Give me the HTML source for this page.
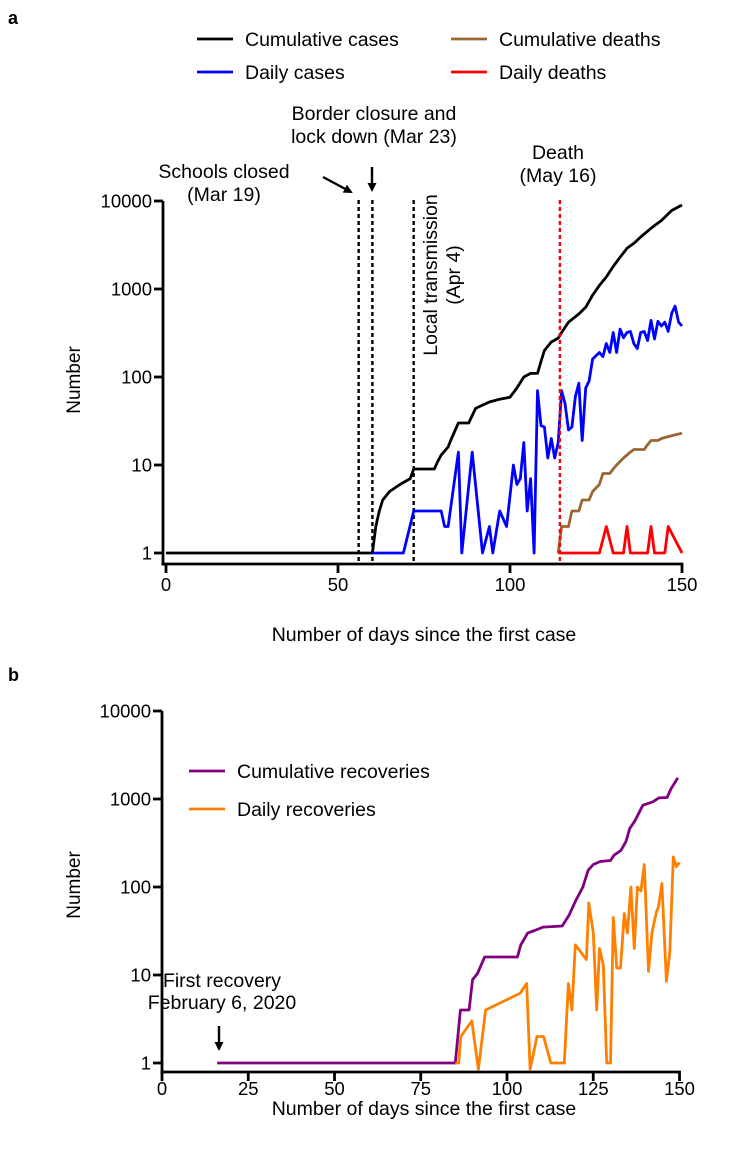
<!DOCTYPE html>
<html><head><meta charset="utf-8"><style>
body{margin:0;background:#fff;}
svg{display:block;font-family:"Liberation Sans",Arial,sans-serif;}
</style></head><body>
<svg id="chart" width="747" height="1166" viewBox="0 0 747 1166">
<defs><marker id="ah" markerWidth="9" markerHeight="9" refX="7" refY="4.5" orient="auto" markerUnits="userSpaceOnUse"><path d="M0,0 L9,4.5 L0,9 z" fill="#000"/></marker></defs>
<text x="8" y="24" font-size="18" font-weight="bold">a</text>
<text x="8" y="681" font-size="18" font-weight="bold">b</text>
<g id="a"></g><g id="b"></g>
</svg>
<script>
const NS='http://www.w3.org/2000/svg';
// Panel a data
const cumCasesDays=[0,60,61,62,63,65,68,71,72,78,79,80,82,83,85,88,90,92,94,97,100,102,104,106,108,109,110,112,114,115,117,120,122,124,126,128,130,132,134,136,138,141,144,147,150];
const cumCasesVals=[1,1,2,3,4,5,6,7,9,9,11,13,16,20,30,30,44,48,52,56,59,75,100,110,110,150,200,250,277,320,420,520,620,850,1100,1370,1800,2300,2900,3300,3900,4900,6000,7800,9000];
const dailyCasesDays=[60,69,72,80,81,82,85,86,89,92,94,95,97,99,101,102,103,104,105,106,107,108,109,110,111,112,113,114,115,116,117,118,119,120,121,122,123,124,126,127,128,129,130,131,132,133,134,135,136,137,138,139,140,141,142,143,144,145,146,147,148,149,150];
const dailyCasesVals=[1,1,3,3,2,2,14,1,14,1,2,1,3,2,10,6,7,18,3,7,1,70,28,27,12,20,12,18,70,50,25,27,60,85,19,75,90,160,190,170,240,190,320,190,350,280,320,330,240,210,320,330,260,440,270,430,380,420,330,530,640,420,380];
const cumDeathsDays=[114,115,117,118,120,121,123,124,126,127,129,130,131,133,134,135,136,139,140,141,143,144,146,148,150];
const cumDeathsVals=[1,2,2,3,3,4,4,5,6,8,8,9,10,12,13,14,15,15,17,19,19,20,21,22,23];
const dailyDeathsDays=[114,126,128,130,133,134,135,140,141,142,145,146,150];
const dailyDeathsVals=[1,1,2,1,1,2,1,1,2,1,1,2,1];
const eventDays=[56,60,72];
const deathEventDay=114.5;
// Panel b data
const cumRecDays=[16,85,86.5,89,90,91.5,93.5,103,104,106,108,110.5,116,118,120,122,123.5,125,127,130,131,133,134.5,135.6,137,139.4,142.3,144,146.4,147.5,149.5];
const cumRecVals=[1,1,4,4,8.8,10.5,16,16,22,30,32,35,36,48,71,100,155,180,195,200,230,260,330,465,560,850,930,1030,1040,1300,1740];
const dailyRecDays=[85,86,86.6,89.8,91.7,93.8,103.8,105.7,106.7,108.7,110.6,112.7,116.6,117.8,118.8,119.8,123,123.7,125,126,126.8,127.9,128.9,130,130.8,131.8,132.9,134,134.9,135.9,136.9,137.8,138.8,139.8,141,142,143.3,143.9,144.9,146.2,147.2,148.2,149.1,150];
const dailyRecVals=[1,1,2,3,0.85,4,6.2,8,0.85,2,2,1,1,8,4,22,15,66,30,4,20,13,1,1,45,12,12,50,30,100,20,100,90,180,11,30,52,60,110,8.5,18,220,170,190];
const yTicks=[1,10,100,1000,10000];
const xTicksA=[0,50,100,150];
const xTicksB=[0,25,50,75,100,125,150];

function el(tag,attrs,parent,txt){const e=document.createElementNS(NS,tag);for(const k in attrs)e.setAttribute(k,attrs[k]);if(txt!==undefined)e.textContent=txt;parent.appendChild(e);return e;}

function panel(g,cfg){
  const xs=d=>cfg.x0+d*cfg.kx, ys=v=>cfg.y1-cfg.ky*Math.log10(v);
  const ax=el('line',{x1:cfg.ax,y1:ys(10000),x2:cfg.ax,y2:cfg.axisY+1.5,stroke:'#000','stroke-width':2.8},g);
  
  
  const bx=el('line',{x1:cfg.ax-1.4,y1:cfg.axisY,x2:xs(150)+1.4,y2:cfg.axisY,stroke:'#000','stroke-width':2.8},g);
  
  
  yTicks.forEach(v=>{
    el('line',{x1:cfg.ax-9,y1:ys(v),x2:cfg.ax,y2:ys(v),stroke:'#000','stroke-width':2.8},g);
    const t=el('text',{x:cfg.ax-11,y:ys(v)+6.5,'text-anchor':'end','font-size':18.5},g,String(v));
    
    
  });
  cfg.xt.forEach(d=>{
    el('line',{x1:xs(d),y1:cfg.axisY,x2:xs(d),y2:cfg.axisY+9,stroke:'#000','stroke-width':2.8},g);
    const t=el('text',{x:xs(d),y:cfg.axisY+cfg.tkOff,'text-anchor':'middle','font-size':18.5},g,String(d));
    
    
  });
  const yt=el('text',{x:0,y:0,'text-anchor':'middle','font-size':19,transform:`translate(${cfg.ytx},${cfg.yty}) rotate(-90)`},g,'Number');
  
  
  const xt=el('text',{x:424,y:cfg.xtY,'text-anchor':'middle','font-size':19.5},g,'Number of days since the first case');
  
  
  return {xs,ys};
}
function series(g,s,days,vals,color,name){
  const p=el('polyline',{points:days.map((d,i)=>s.xs(d).toFixed(1)+','+s.ys(vals[i]).toFixed(1)).join(' '),fill:'none',stroke:color,'stroke-width':2.8,'stroke-linejoin':'round'},g);
  
  
}
function legend(g,x,y,color,label,name){
  el('line',{x1:x,y1:y,x2:x+36,y2:y,stroke:color,'stroke-width':2.8},g);
  const t=el('text',{x:x+48,y:y+7,'font-size':19.5},g,label);
  
  
}
function txt(g,x,y,s,name,anchor){const t=el('text',{x,y,'text-anchor':anchor||'middle','font-size':19.5},g,s);}

const ga=document.getElementById('a');
const sa=panel(ga,{x0:166,kx:3.44,y1:553,ky:88,ax:163,axisY:564,xt:xTicksA,ytx:80,yty:380,xtY:641,tkOff:27});
eventDays.forEach(d=>{const l=el('line',{x1:sa.xs(d),y1:200,x2:sa.xs(d),y2:563,stroke:'#000','stroke-width':2.4,'stroke-dasharray':'4,3'},ga);
  
  });
series(ga,sa,cumCasesDays,cumCasesVals,'#000','cumulative-cases-line');
series(ga,sa,dailyCasesDays,dailyCasesVals,'#0000ff','daily-cases-line');
series(ga,sa,cumDeathsDays,cumDeathsVals,'#996633','cumulative-deaths-line');
series(ga,sa,dailyDeathsDays,dailyDeathsVals,'#ff0000','daily-deaths-line');
const dl=el('line',{x1:sa.xs(deathEventDay),y1:200,x2:sa.xs(deathEventDay),y2:563,stroke:'#ff0000','stroke-width':2.4,'stroke-dasharray':'4,3'},ga);


legend(ga,197,39,'#000','Cumulative cases','legend-cumulative-cases');
legend(ga,197,72,'#0000ff','Daily cases','legend-daily-cases');
legend(ga,451,39,'#996633','Cumulative deaths','legend-cumulative-deaths');
legend(ga,451,72,'#ff0000','Daily deaths','legend-daily-deaths');
txt(ga,374,120,'Border closure and','annotation-border');
txt(ga,374,143,'lock down (Mar 23)','annotation-border');
txt(ga,224,178,'Schools closed','annotation-schools');
txt(ga,224,201,'(Mar 19)','annotation-schools');
txt(ga,558,159,'Death','annotation-death');
txt(ga,558,182,'(May 16)','annotation-death');
el('line',{x1:323,y1:177,x2:351,y2:192,stroke:'#000','stroke-width':2.4,'marker-end':'url(#ah)'},ga);
el('line',{x1:372,y1:167,x2:372,y2:190,stroke:'#000','stroke-width':2.4,'marker-end':'url(#ah)'},ga);
const lt=el('text',{x:0,y:0,'text-anchor':'middle','font-size':19.5,transform:'translate(437,275) rotate(-90)'},ga);


el('tspan',{x:0,dy:0},lt,'Local transmission');el('tspan',{x:0,dy:23},lt,'(Apr 4)');

const gb=document.getElementById('b');
const sb=panel(gb,{x0:162,kx:3.45,y1:1063,ky:88,ax:162,axisY:1072,xt:xTicksB,ytx:80,yty:885,xtY:1115,tkOff:23});
series(gb,sb,cumRecDays,cumRecVals,'#800080','cumulative-recoveries-line');
series(gb,sb,dailyRecDays,dailyRecVals,'#ff8000','daily-recoveries-line');
legend(gb,189,771,'#800080','Cumulative recoveries','legend-cumulative-recoveries');
legend(gb,189,809,'#ff8000','Daily recoveries','legend-daily-recoveries');
txt(gb,222,987,'First recovery','annotation-first-recovery');
txt(gb,222,1009,'February 6, 2020','annotation-first-recovery');
el('line',{x1:219,y1:1026,x2:219,y2:1049,stroke:'#000','stroke-width':2.4,'marker-end':'url(#ah)'},gb);
</script>
</body></html>
